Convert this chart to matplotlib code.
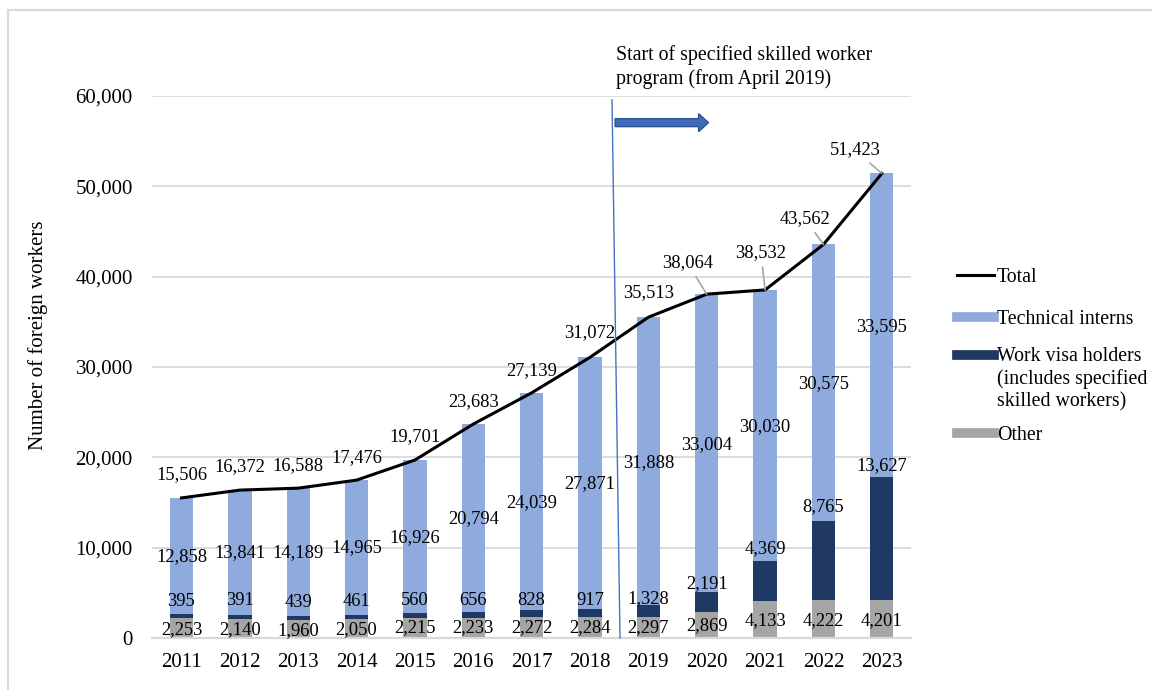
import numpy as np
import matplotlib
matplotlib.use("Agg")
import matplotlib.pyplot as plt
from matplotlib.lines import Line2D
from matplotlib.patches import FancyArrow
from matplotlib.ticker import FuncFormatter

plt.rcParams['font.family'] = ['Liberation Serif', 'DejaVu Serif']

years = ["2011", "2012", "2013", "2014", "2015", "2016", "2017",
         "2018", "2019", "2020", "2021", "2022", "2023"]
other = [2253, 2140, 1960, 2050, 2215, 2233, 2272, 2284, 2297, 2869, 4133, 4222, 4201]
work_visa = [395, 391, 439, 461, 560, 656, 828, 917, 1328, 2191, 4369, 8765, 13627]
interns = [12858, 13841, 14189, 14965, 16926, 20794, 24039, 27871,
           31888, 33004, 30030, 30575, 33595]
total = [15506, 16372, 16588, 17476, 19701, 23683, 27139, 31072,
         35513, 38064, 38532, 43562, 51423]

# where each value label sits (y in data units)
other_label_y = [890, 890, 780, 890, 1110, 1110, 1110, 1110, 1110, 1330, 1880, 1880, 1880]
visa_label_y = [3990, 4100, 3880, 3990, 4100, 4100, 4100, 4100, 4320, 5980, 9850, 14500, 19040]
intern_label_y = [8970, 9410, 9410, 9960, 11070, 13170, 14950, 17050,
                  19370, 21370, 23360, 28120, 34430]
total_label_y = [18040, 18930, 19040, 19930, 22250, 26130, 29560, 33760,
                 38190, 41510, 42620, 46380, 54020]
total_label_dx = [0, 0, 0, 0, 0, 0, 0, 0, 0, -0.33, -0.07, -0.31, -0.46]

c_other = "#a5a5a5"
c_visa = "#203864"
c_intern = "#8faadc"
c_grid = "#d9d9d9"

W, H = 1152, 690
fig = plt.figure(figsize=(W / 100, H / 100), dpi=100)
ax = fig.add_axes([152.3 / W, 52 / H, (911 - 152.3) / W, 542 / H])

x = np.arange(len(years))
other = np.array(other)
work_visa = np.array(work_visa)
interns = np.array(interns)
bw = 0.4

ax.bar(x, other, bw, color=c_other, zorder=2)
ax.bar(x, work_visa, bw, bottom=other, color=c_visa, zorder=2)
ax.bar(x, interns, bw, bottom=other + work_visa, color=c_intern, zorder=2)
ax.plot(x, total, color="black", lw=2.2, zorder=3)

fs = 13.3
for i in range(len(years)):
    ax.text(x[i], other_label_y[i], f"{other[i]:,}", ha="center", va="center", fontsize=fs, zorder=5)
    ax.text(x[i], visa_label_y[i], f"{work_visa[i]:,}", ha="center", va="center", fontsize=fs, zorder=5)
    ax.text(x[i], intern_label_y[i], f"{interns[i]:,}", ha="center", va="center", fontsize=fs, zorder=5)
    if total_label_dx[i] != 0:
        ax.annotate(f"{total[i]:,}", xy=(x[i], total[i]),
                    xytext=(x[i] + total_label_dx[i], total_label_y[i]),
                    ha="center", va="center", fontsize=fs, zorder=5,
                    arrowprops=dict(arrowstyle="-", color="#a6a6a6", lw=1.2,
                                    shrinkA=2, shrinkB=0))
    else:
        ax.text(x[i], total_label_y[i], f"{total[i]:,}", ha="center", va="center", fontsize=fs, zorder=5)

ax.set_xlim(-0.5, len(years) - 0.5)
ax.set_ylim(0, 60000)
ax.set_yticks(np.arange(0, 60001, 10000))
ax.yaxis.set_major_formatter(FuncFormatter(lambda v, p: f"{int(v):,}"))
ax.set_xticks(x)
ax.set_xticklabels(years)
ax.tick_params(axis="both", length=0, labelsize=15)
ax.tick_params(axis="y", pad=14)
ax.tick_params(axis="x", pad=11)
ax.grid(axis="y", color=c_grid, lw=1.3, zorder=0)
for s in ["top", "right", "left"]:
    ax.spines[s].set_visible(False)
ax.spines["bottom"].set_color(c_grid)
ax.spines["bottom"].set_linewidth(1.6)
ax.set_ylabel("Number of foreign workers", fontsize=15)
ax.yaxis.set_label_coords(-0.1375, 0.5595)

# start of the specified skilled worker program
ax.plot([7.377, 7.514], [59560, 0], color="#4472c4", lw=1, zorder=4, clip_on=False)
ax.add_patch(FancyArrow(7.43, 57050, 1.6, 0, width=880, head_width=2000,
                        head_length=0.17, length_includes_head=True,
                        facecolor="#3f6bbf", edgecolor="#2f528f", lw=1,
                        clip_on=False, zorder=4))


def fx(px):
    return px / W


def fy(py):
    return 1 - py / H


fs_side = 14.3
# baseline alignment on multi-line text pins the last line
fig.text(fx(616), fy(84), "Start of specified skilled worker\nprogram (from April 2019)",
         ha="left", va="baseline", fontsize=fs_side, linespacing=1.27)

# legend
legend_items = [
    (275, "black", 2.2, "Total"),
    (317, c_intern, 7, "Technical interns"),
    (355, c_visa, 7, "Work visa holders\n(includes specified\nskilled workers)"),
    (433, c_other, 7, "Other"),
]
for py, col, lw, lab in legend_items:
    n_lines = lab.count("\n")
    fig.add_artist(Line2D([fx(957), fx(994)], [fy(py), fy(py)], color=col, lw=lw))
    fig.text(fx(997), fy(py + 6.5 + 22.5 * n_lines), lab, ha="left", va="baseline",
             fontsize=fs_side, linespacing=1.22)

# outer frame
fig.add_artist(Line2D([fx(8), fx(8)], [0, fy(10)], color=c_grid, lw=1.5))
fig.add_artist(Line2D([fx(8), 1], [fy(10), fy(10)], color=c_grid, lw=1.5))

fig.savefig("out.png", dpi=100)
